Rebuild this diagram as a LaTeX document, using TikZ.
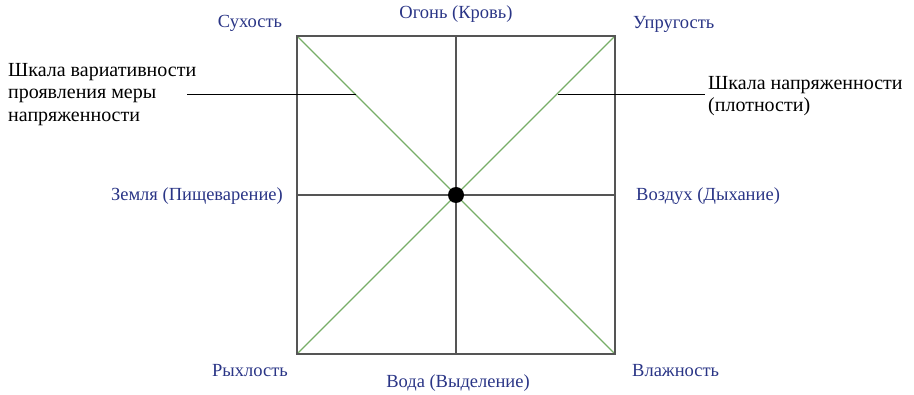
\documentclass[tikz,border=0pt]{standalone}
\usepackage{fontspec}
\setmainfont{Liberation Serif}
\usetikzlibrary{positioning}
\definecolor{navy}{HTML}{2A3586}
\definecolor{frame}{HTML}{555555}
\definecolor{diag}{HTML}{78AE68}
\tikzset{
  lbl/.style={text=navy,font=\fontsize{18.5}{21}\selectfont,inner sep=1pt},
  note/.style={align=left,font=\fontsize{20}{22.5}\selectfont,inner sep=0pt},
  axis/.style={draw=frame,line width=1.4pt},
  diagline/.style={draw=diag,line width=1.4pt},
  leader/.style={draw=black,line width=1pt}
}
\begin{document}
\begin{tikzpicture}[x=1pt,y=-1pt]
  \useasboundingbox (0,0) rectangle (914,395);
  % corners and middle of the square
  \coordinate (tl) at (297,36);
  \coordinate (tr) at (615,36);
  \coordinate (bl) at (297,354);
  \coordinate (br) at (615,354);
  \coordinate (tm) at (456,36);
  \coordinate (bm) at (456,354);
  \coordinate (lm) at (297,195);
  \coordinate (rm) at (615,195);
  \coordinate (c) at (456,195);
  % diagonals
  \draw[diagline] (tl) -- (br);
  \draw[diagline] (bl) -- (tr);
  % frame and axes
  \draw[axis] (tl) rectangle (br);
  \draw[axis] (tm) -- (bm);
  \draw[axis] (lm) -- (rm);
  \fill (c) circle (8);
  % labels
  \node[lbl] (dry) at (250,23) {Сухость};
  \node[lbl] (fire) at (456,14) {Огонь (Кровь)};
  \node[lbl,anchor=west] (elast) at (632,24) {Упругость};
  \node[lbl,anchor=east] (earth) at (284,196) {Земля (Пищеварение)};
  \node[lbl,anchor=west] (air) at (635,196) {Воздух (Дыхание)};
  \node[lbl] (loose) at (250,371) {Рыхлость};
  \node[lbl] (water) at (458,383) {Вода (Выделение)};
  \node[lbl,anchor=west] (wet) at (631,371) {Влажность};
  % notes with leaders
  \node[note,anchor=north west] (varnote) at (8,63) {Шкала вариативности\\проявления меры\\напряженности};
  \node[note,anchor=north west] (densnote) at (708,76) {Шкала напряженности\\(плотности)};
  \coordinate (vl) at (187,95);
  \coordinate (vd) at (356,95);
  \coordinate (dl) at (705,95);
  \coordinate (dd) at (558,95);
  \draw[leader] (vl) -- (vd);
  \draw[leader] (dd) -- (dl);
\end{tikzpicture}
\end{document}
